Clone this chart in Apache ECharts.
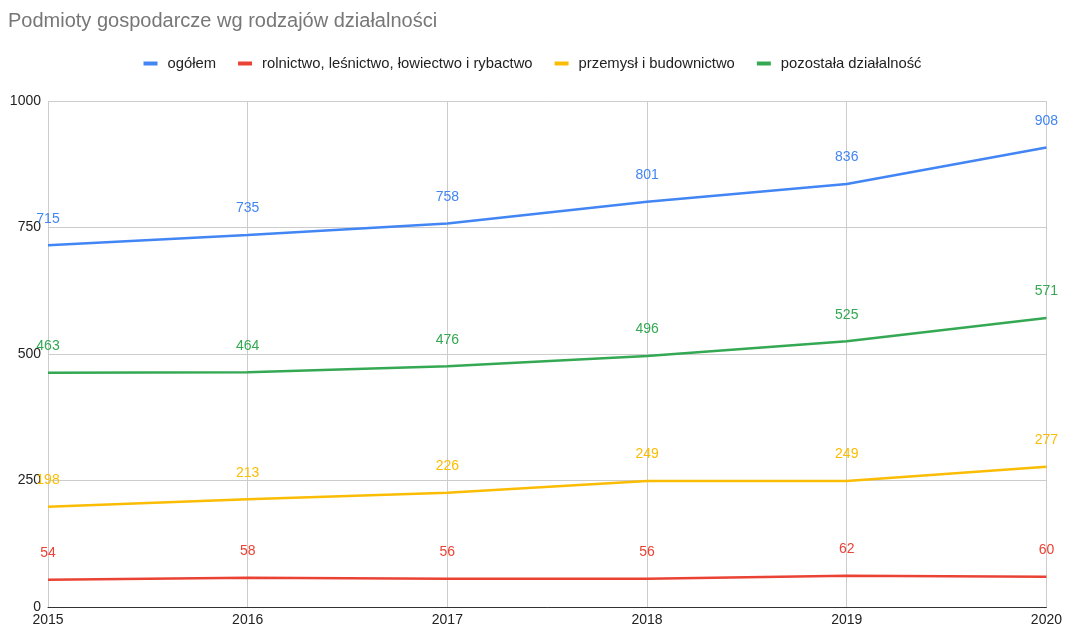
<!DOCTYPE html>
<html><head><meta charset="utf-8">
<script src="https://cdn.jsdelivr.net/npm/echarts@6/dist/echarts.min.js"></script>
<style>html,body{margin:0;padding:0;background:#fff}#c{width:1065px;height:627px}</style>
</head><body><div id="c"></div>
<script>
const years = ['2015','2016','2017','2018','2019','2020'];
const ogolem = [715,735,758,801,836,908];
const rolnictwo = [54,58,56,56,62,60];
const przemysl = [198,213,226,249,249,277];
const pozostala = [463,464,476,496,525,571];
const seriesNames = ['ogółem','rolnictwo, leśnictwo, łowiectwo i rybactwo','przemysł i budownictwo','pozostała działalność'];
const colors = ['#4285f4','#ea4335','#fbbc04','#34a853'];
const yTicks = [0,250,500,750,1000];
const FONT = 'Arial, "Liberation Sans", sans-serif';
const chart = echarts.init(document.getElementById('c'));
const datasets = [ogolem, rolnictwo, przemysl, pozostala];
chart.setOption({
  animation:false,
  color:colors,
  title:{text:'Podmioty gospodarcze wg rodzajów działalności',left:3,top:6,textStyle:{fontFamily:FONT,fontSize:20,fontWeight:'normal',color:'#777'}},
  legend:{top:51,left:'center',itemWidth:14,itemHeight:4,itemGap:22,icon:'rect',
    textStyle:{fontFamily:FONT,fontSize:14.8,color:'#222',padding:[0,0,0,5]},
    data:seriesNames.map((n,i)=>({name:n,itemStyle:{color:colors[i],opacity:1}}))},
  grid:{left:48,right:17,top:101,bottom:20,containLabel:false},
  xAxis:{type:'category',data:years,boundaryGap:false,
    axisLine:{lineStyle:{color:'#333'}},axisTick:{show:false},
    axisLabel:{color:'#222',fontSize:14,fontFamily:FONT,margin:6},
    splitLine:{show:true,lineStyle:{color:'#ccc'}}},
  yAxis:{type:'value',min:yTicks[0],max:yTicks[yTicks.length-1],interval:250,
    axisLine:{show:false},axisTick:{show:false},
    axisLabel:{color:'#222',fontSize:14,fontFamily:FONT,margin:7,formatter:v=>String(v)},
    splitLine:{lineStyle:{color:'#ccc'}}},
  series:datasets.map((d,i)=>({
    name:seriesNames[i],type:'line',data:d,symbol:'circle',symbolSize:1,showSymbol:true,
    itemStyle:{opacity:0},
    lineStyle:{width:2.5},
    label:{show:true,position:'top',distance:19,color:colors[i],fontSize:14,fontFamily:FONT,
      textBorderColor:'#fff',textBorderWidth:0,opacity:1},
    z:[2,5,3,4][i]
  }))
});
</script></body></html>
